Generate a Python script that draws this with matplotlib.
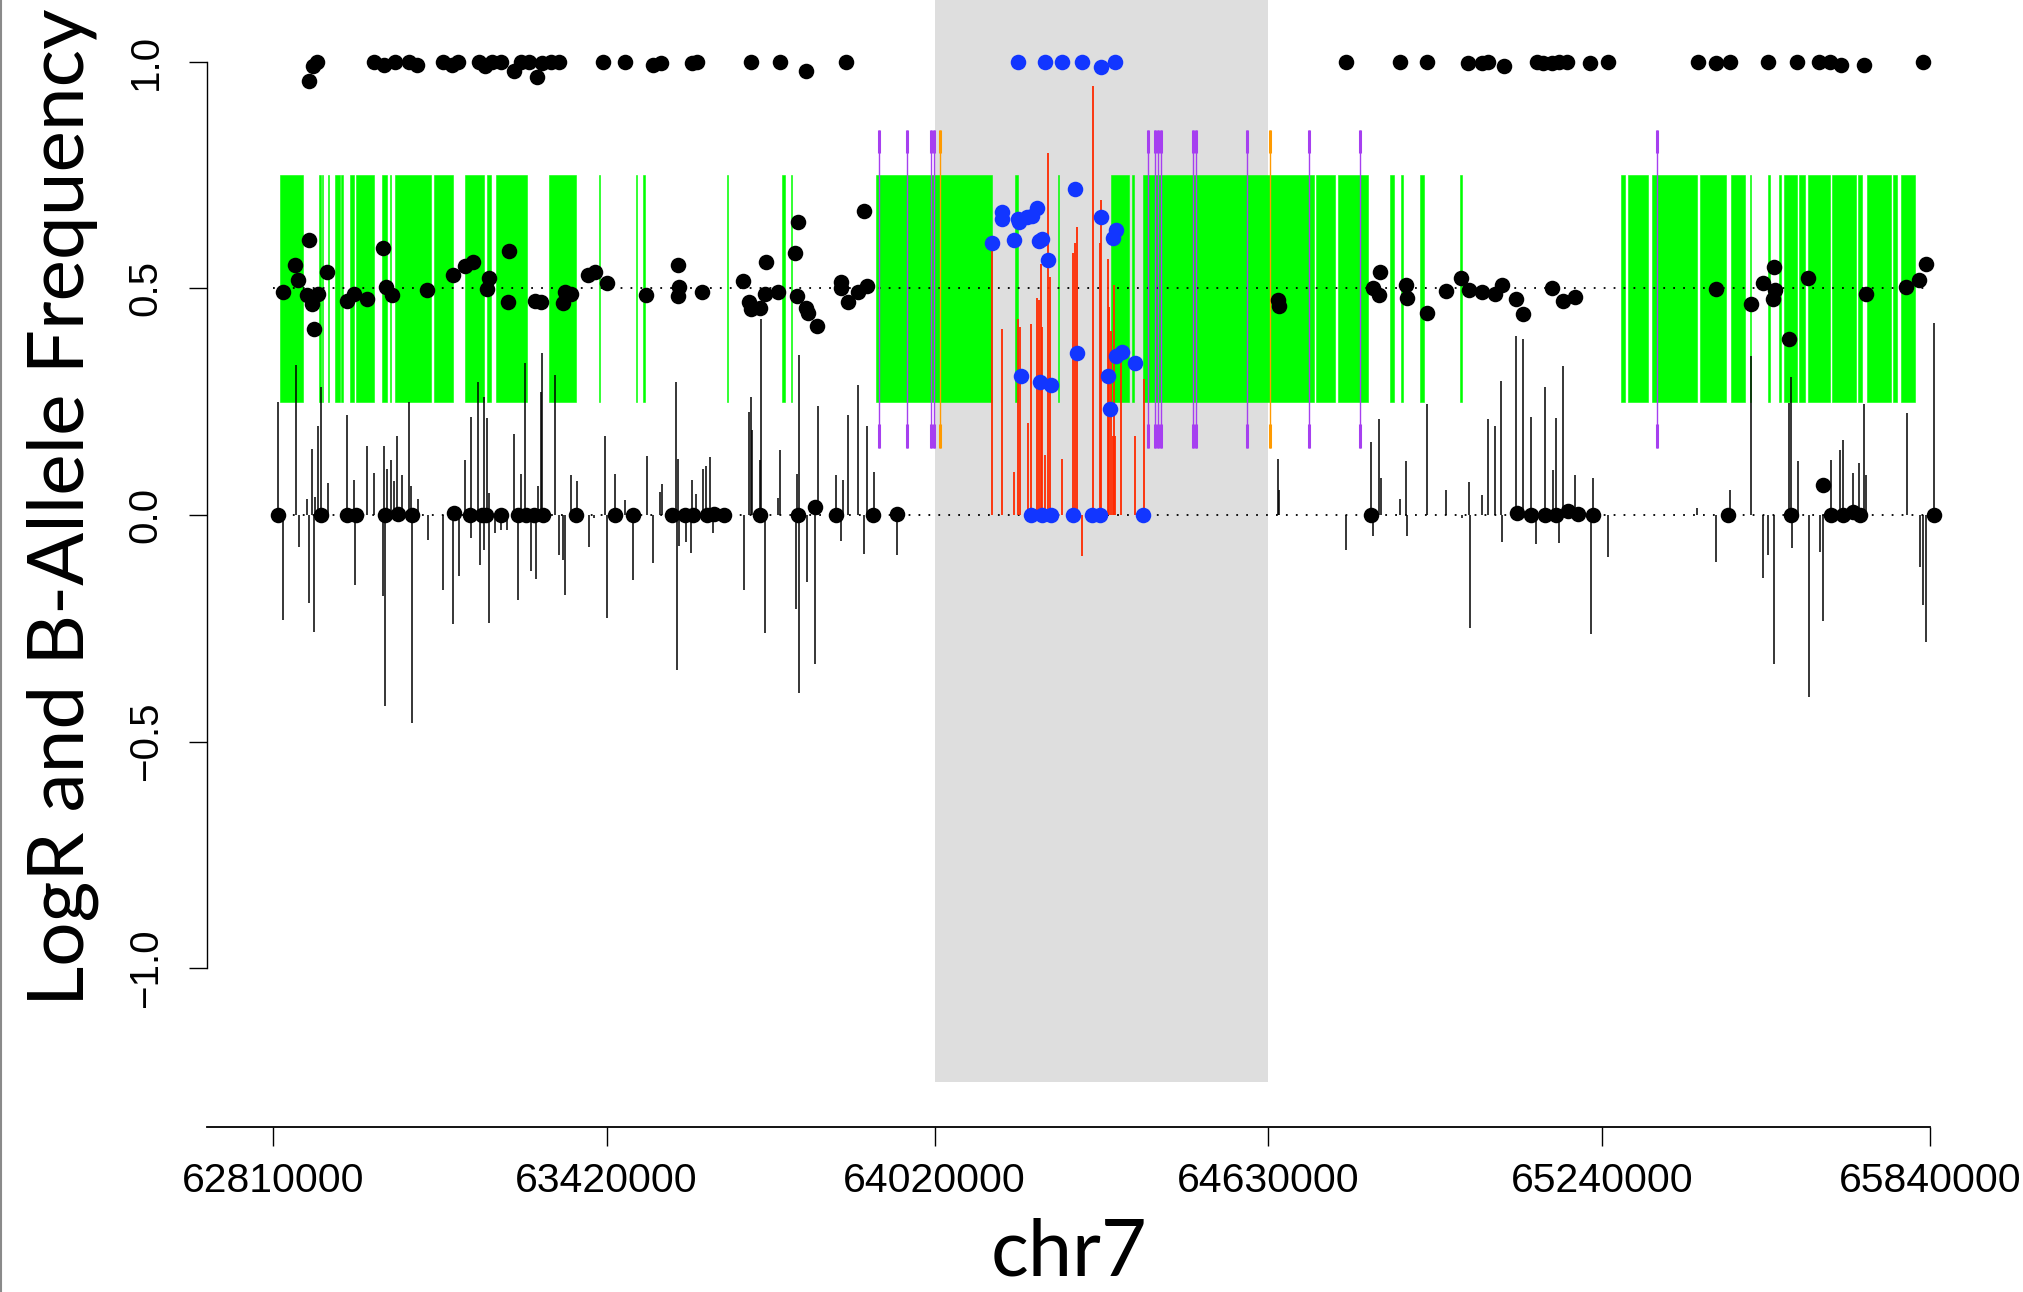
import numpy as np
import matplotlib
matplotlib.use("Agg")
import matplotlib.pyplot as plt
from matplotlib.lines import Line2D

# highlighted region on chr7
region_start = 64020000
region_end = 64630000

xtick_vals = [62810000, 63420000, 64020000, 64630000, 65240000, 65840000]
xtick_labels = ["62810000", "63420000", "64020000", "64630000", "65240000", "65840000"]
ytick_vals = [-1.0, -0.5, 0.0, 0.5, 1.0]
ytick_labels = ["\u22121.0", "\u22120.5", "0.0", "0.5", "1.0"]

# B-allele frequency (positions in bp)
baf_pos = [
    # near 1
    62875900, 62882400, 62890500, 62994000, 63012800, 63033100, 63059200, 63073900,
    63121100, 63137400, 63148800, 63186300, 63197700, 63210700, 63227000, 63251500,
    63262900, 63277500, 63292200, 63302000, 63318300, 63332900, 63413600, 63453500,
    63505700, 63519500, 63576500, 63585500, 63684900, 63736200, 63785100, 63858400,
    64172900, 64221000, 64251900, 64289400, 64323700, 64350500,
    64771100, 64870400, 64919200, 64995700, 65020100, 65031900, 65060500, 65121100,
    65132000, 65148900, 65161500, 65176600, 65218700, 65251500, 65414700, 65449200,
    65474500, 65543500, 65597300, 65637700, 65656200, 65676400, 65719300, 65827900,
    # heterozygous band
    62827800, 62849800, 62856300, 62875900, 62872600, 62880800, 62884800, 62893000,
    62909300, 62945100, 62958200, 62982600, 63010300, 63016800, 63027400, 63091800,
    63139000, 63161900, 63175700, 63204200, 63201800, 63240900, 63239200, 63289700,
    63299500, 63339400, 63344300, 63355700, 63386700, 63398100, 63420900, 63492600,
    63550600, 63551500, 63549800, 63595300, 63670300, 63680000, 63684900, 63701200,
    63711000, 63709300, 63733800, 63770400, 63764700, 63768000, 63785100, 63788400,
    63805500, 63849500, 63847900, 63861700, 63880500, 63896800, 63891000,
    64124000, 64142800, 64142800, 64165600, 64172900, 64174600, 64189200, 64197400,
    64207200, 64211200, 64215300, 64227500, 64275600, 64324500, 64345600, 64352200,
    64177000, 64213000, 64232000, 64280300, 64337000, 64340000, 64351000, 64362000,
    64386400,
    64647100, 64648700,
    64820700, 64835000, 64831700, 64881300, 64883000, 64919200, 64955300, 64983100,
    64997400, 65021000, 65043700, 65058000, 65082400, 65095000, 65148900, 65168200,
    65190900, 65449200, 65512300, 65534200, 65554400, 65556900, 65551900, 65581400,
    65617500, 65722700, 65796800, 65820300, 65832900,
    # near 0
    62819700, 62897100, 62945100, 62961400, 63014400, 63038800, 63064100, 63140700,
    63170000, 63192000, 63200100, 63227000, 63257200, 63273500, 63287300, 63303600,
    63364700, 63435600, 63468100, 63539900, 63562700, 63577300, 63603400, 63615600,
    63634400, 63699600, 63770400, 63800600, 63839700, 63907300, 63951300,
    64195500, 64215300, 64233000, 64272800, 64308200, 64323000, 64401300,
    64818000, 65084000, 65110500, 65136000, 65155300, 65177000, 65195400, 65223500,
    65471000, 65586000, 65644000, 65658100, 65679800, 65699000, 65711500, 65846500,
]
baf_val = [
    0.956, 0.990, 1.0, 1.0, 0.992, 1.0, 1.0, 0.992,
    1.0, 0.993, 1.0, 1.0, 0.990, 1.0, 1.0, 0.980,
    1.0, 1.0, 0.965, 0.996, 1.0, 1.0, 1.0, 1.0,
    0.992, 0.996, 0.996, 1.0, 1.0, 1.0, 0.980, 1.0,
    1.0, 0.998, 1.0, 1.0, 0.988, 0.998,
    1.0, 1.0, 1.0, 0.996, 0.997, 1.0, 0.990, 1.0,
    0.997, 0.996, 1.0, 1.0, 0.996, 1.0, 1.0, 0.996,
    0.998, 1.0, 1.0, 1.0, 0.998, 0.992, 0.993, 1.0,
    0.492, 0.551, 0.517, 0.607, 0.486, 0.465, 0.411, 0.487,
    0.535, 0.471, 0.487, 0.477, 0.589, 0.503, 0.486, 0.497,
    0.530, 0.549, 0.557, 0.523, 0.498, 0.581, 0.469, 0.472,
    0.470, 0.467, 0.492, 0.487, 0.530, 0.536, 0.511, 0.484,
    0.551, 0.503, 0.483, 0.492, 0.516, 0.470, 0.454, 0.456,
    0.557, 0.487, 0.492, 0.645, 0.578, 0.483, 0.456, 0.445,
    0.416, 0.514, 0.501, 0.470, 0.492, 0.504, 0.671,
    0.600, 0.667, 0.652, 0.606, 0.653, 0.646, 0.656, 0.659,
    0.676, 0.604, 0.608, 0.563, 0.719, 0.656, 0.611, 0.628,
    0.306, 0.294, 0.287, 0.356, 0.306, 0.233, 0.351, 0.359,
    0.336,
    0.473, 0.460,
    0.501, 0.536, 0.484, 0.507, 0.479, 0.446, 0.494, 0.522,
    0.497, 0.492, 0.488, 0.507, 0.477, 0.443, 0.500, 0.472,
    0.481, 0.498, 0.465, 0.511, 0.547, 0.497, 0.477, 0.388,
    0.522, 0.487, 0.503, 0.518, 0.553,
    0.0, 0.0, 0.0, 0.0, 0.0, 0.003, 0.0, 0.005,
    0.0, 0.0, 0.0, 0.0, 0.0, 0.0, 0.0, 0.0,
    0.0, 0.0, 0.0, 0.0, 0.0, 0.0, 0.0, 0.003,
    0.0, 0.0, 0.0, 0.017, 0.0, 0.0, 0.003,
    0.0, 0.0, 0.0, 0.0, 0.0, 0.0, 0.0,
    0.0, 0.005, 0.0, 0.0, 0.0, 0.008, 0.003, 0.0,
    0.0, 0.0, 0.066, 0.0, 0.0, 0.006, 0.0, 0.0,
]

# LogR (positions in bp)
logr_pos = [
    62819700, 62827800, 62851400, 62858000, 62872600, 62875900, 62880800, 62884800,
    62886000, 62893000, 62897100, 62910100, 62945100, 62957400, 62959800, 62982600,
    62994800, 63011100, 63012800, 63014400, 63018500, 63026600, 63030700, 63036400,
    63045300, 63058400, 63062000, 63063300, 63074700, 63092600, 63121100, 63139900,
    63149600, 63161800, 63171600, 63172800, 63184600, 63188700, 63195200, 63196400,
    63201800, 63204200, 63205800, 63216400, 63226200, 63238400, 63251500, 63257200,
    63262900, 63271000, 63281600, 63290600, 63293800, 63299500, 63302000, 63326400,
    63332100, 63339400, 63343500, 63355700, 63365500, 63387500, 63397300, 63416800,
    63420900, 63435600, 63453500, 63469000, 63493400, 63505700, 63517000, 63521900,
    63546400, 63548000, 63550600, 63551800, 63564300, 63574100, 63576500, 63583900,
    63596100, 63601000, 63609900, 63614000, 63671000, 63680800, 63684100, 63685700,
    63700400, 63702000, 63710200, 63733800, 63737800, 63766400, 63768800, 63771200,
    63772400, 63785900, 63800600, 63806300, 63839700, 63847800, 63851900, 63860800,
    63880400, 63890200, 63896700, 63908100, 63951300,
    64124100, 64142800, 64165600, 64172900, 64176200, 64190900, 64196600, 64207200,
    64211200, 64213700, 64216900, 64221000, 64227500, 64231600, 64252000, 64272300,
    64275600, 64279600, 64289400, 64309800, 64322000, 64324500, 64335900, 64339100,
    64342400, 64345600, 64348100, 64350500, 64361100, 64385600, 64401900,
    64648200, 64649500, 64771800, 64817900, 64821400, 64831600, 64835400, 64871000,
    64882200, 64883400, 64920000, 64955500, 64983500, 64997400, 64998600, 65021000,
    65032300, 65044000, 65055500, 65056600, 65083100, 65095400, 65110600, 65120000,
    65136000, 65149800, 65155600, 65160700, 65168600, 65190400, 65219400, 65223700,
    65251300, 65414400, 65449200, 65474600, 65513000, 65534100, 65543500, 65554400,
    65581200, 65586300, 65587500, 65598600, 65618200, 65637800, 65645000, 65658100,
    65675500, 65679800, 65699400, 65710300, 65719700, 65722600, 65798000, 65821200,
    65827000, 65832800, 65846600,
]
logr_val = [
    0.248, -0.232, 0.331, -0.071, 0.035, -0.195, 0.146, -0.259,
    0.039, 0.195, 0.283, 0.071, 0.220, 0.076, -0.154, 0.153,
    0.093, -0.180, 0.153, -0.421, 0.101, 0.120, 0.074, 0.175,
    0.087, 0.249, 0.063, -0.460, 0.035, -0.055, -0.165, -0.240,
    -0.135, 0.121, 0.217, -0.051, 0.294, -0.110, 0.260, -0.077,
    0.214, -0.239, 0.048, -0.040, -0.033, -0.033, 0.179, -0.188,
    0.090, 0.336, -0.123, -0.142, 0.064, 0.270, 0.357, 0.308,
    -0.088, -0.100, -0.176, 0.088, 0.074, -0.070, -0.007, 0.174,
    -0.228, 0.090, 0.032, -0.143, 0.130, -0.107, 0.050, 0.068,
    0.293, -0.343, 0.124, -0.068, -0.060, -0.085, 0.077, 0.046,
    0.101, 0.107, 0.127, -0.040, -0.165, 0.226, 0.261, 0.188,
    0.121, 0.433, -0.261, 0.037, 0.143, -0.208, 0.090, 0.352,
    -0.393, -0.147, -0.329, 0.240, 0.088, -0.057, 0.076, 0.220,
    0.287, -0.087, 0.196, 0.094, -0.088,
    0.583, 0.411, 0.095, 0.432, 0.414, 0.203, 0.422, 0.479,
    0.473, 0.553, 0.414, 0.131, 0.798, 0.524, 0.123, 0.578,
    0.600, 0.636, -0.091, 0.945, 0.600, 0.695, 0.564, 0.458,
    0.405, 0.173, 0.507, 0.173, 0.359, 0.173, 0.300,
    0.124, 0.055, -0.077, 0.160, -0.046, 0.211, 0.081, 0.035,
    0.118, -0.046, 0.245, 0.055, -0.006, 0.072, -0.250, 0.044,
    0.212, 0.195, 0.296, -0.060, 0.394, 0.387, 0.217, -0.064,
    0.281, 0.099, 0.213, -0.061, 0.329, 0.087, -0.262, 0.081,
    -0.092, 0.015, -0.104, 0.055, 0.351, -0.140, -0.088, -0.329,
    0.246, 0.305, -0.074, 0.118, -0.402, -0.081, -0.235, 0.121,
    0.143, 0.165, 0.092, 0.115, 0.245, 0.088, 0.224, -0.116,
    -0.199, -0.280, 0.423,
]

# green segments (start, end in bp)
green_start = [
    62822900, 62894600, 62899500, 62910900, 62923900, 62933700, 62950000, 62962200,
    63009500, 63023300, 63033100, 63104000, 63161000, 63201800, 63217200, 63314200,
    63405400, 63473100, 63486900, 63640900, 63741100, 63756600,
    63913500, 64167200, 64244600, 64341600, 64379900, 64400200, 64716300, 64757900,
    64852500, 64872800, 64908000, 64980400,
    65274700, 65286800, 65332000, 65418400, 65475700, 65510700, 65542700, 65563000,
    65573000, 65601000, 65617500, 65661500, 65708200, 65725000, 65772500, 65786800,
]
green_end = [
    62864500, 62897100, 62901100, 62912500, 62932100, 62938600, 62958200, 62994800,
    63018500, 63025800, 63099100, 63139000, 63196100, 63208300, 63274300, 63363900,
    63408700, 63475500, 63489400, 63642500, 63746800, 63759800,
    64124100, 64172100, 64247100, 64375800, 64384800, 64713100, 64751900, 64812000,
    64859500, 64876000, 64914500, 64983800,
    65281400, 65323800, 65413000, 65466000, 65502300, 65513200, 65547400, 65567600,
    65597500, 65611600, 65657500, 65705100, 65716000, 65769000, 65779500, 65812600,
]

purple_pos = [63918700, 63970100, 64013300, 64018100, 64410000, 64423000, 64427900,
              64432800, 64493100, 64497200, 64590900, 64703500, 64798300, 65340200]
orange_pos = [64030300, 64632400]

baf_pos = np.array(baf_pos)
baf_val = np.array(baf_val)
logr_pos = np.array(logr_pos)
logr_val = np.array(logr_val)

W, H = 2023, 1292
fig = plt.figure(figsize=(W / 100, H / 100), dpi=100)
ax = fig.add_axes([206.7 / W, 1 - 1081.6 / H, (1996.4 - 206.7) / W, 1081.6 / H])
ax.set_xlim(62688800, 65961200)
ax.set_ylim(-1.25, 1.1357)

ax.axvspan(region_start, region_end, color="#dedede", lw=0, zorder=0)

widths = [e - s for s, e in zip(green_start, green_end)]
ax.broken_barh(list(zip(green_start, widths)), (0.25, 0.5), facecolor="#00ff00",
               edgecolor="#00ff00", linewidth=0.4, zorder=1)

ax.hlines([0.0, 0.5], xtick_vals[0], xtick_vals[-1], colors="black", lw=1.3,
          linestyles=[(0, (1, 4.5))], zorder=2)

for pos, col in [(purple_pos, "#a63ff0"), (orange_pos, "#ff9a00")]:
    ax.vlines(pos, 0.148, 0.849, colors=col, lw=1.0, zorder=3)
    ax.vlines(pos, 0.798, 0.849, colors=col, lw=2.2, zorder=3)
    ax.vlines(pos, 0.148, 0.200, colors=col, lw=2.2, zorder=3)

in_reg = (logr_pos >= region_start) & (logr_pos <= region_end)
ax.vlines(logr_pos[~in_reg], 0, logr_val[~in_reg], colors="black", lw=1.1, zorder=4)
ax.vlines(logr_pos[in_reg], 0, logr_val[in_reg], colors="#ff2a00", lw=1.3, zorder=4)

in_reg = (baf_pos >= region_start) & (baf_pos <= region_end)
ax.scatter(baf_pos[~in_reg], baf_val[~in_reg], s=125, c="black", linewidths=0, zorder=5)
ax.scatter(baf_pos[in_reg], baf_val[in_reg], s=125, c="#1236ff", linewidths=0, zorder=5)

for side in ["top", "right"]:
    ax.spines[side].set_visible(False)
ax.spines["left"].set_bounds(-1, 1)
ax.spines["left"].set_linewidth(1.0)
ax.spines["bottom"].set_position(("outward", 32.4))
ax.spines["bottom"].set_bounds(62688800, xtick_vals[-1])
ax.spines["bottom"].set_linewidth(1.3)

tick_font = ["Liberation Sans", "DejaVu Sans"]
ax.set_xticks(xtick_vals)
ax.set_xticklabels(xtick_labels, fontsize=29.5, family=tick_font)
ax.set_yticks(ytick_vals)
ax.set_yticklabels(ytick_labels, fontsize=29, family=tick_font, rotation=90, va="center")
ax.tick_params(axis="x", length=13.7, width=1.0, pad=12)
ax.tick_params(axis="y", length=13.2, width=1.0, pad=17)

label_font = ["Lato", "DejaVu Sans"]
fig.text(62.5 / W, 1 - 506.7 / H, "LogR and B-Allele Frequency", rotation=90,
         ha="center", va="center", fontsize=56.5, family=label_font)
fig.text(1069 / W, 1 - 1276 / H, "chr7", ha="center", va="baseline",
         fontsize=57, family=label_font)

fig.add_artist(Line2D([0.0006, 0.0006], [0, 1], color="#8a8a8a", lw=1.5))

fig.savefig("out.png", dpi=100)
